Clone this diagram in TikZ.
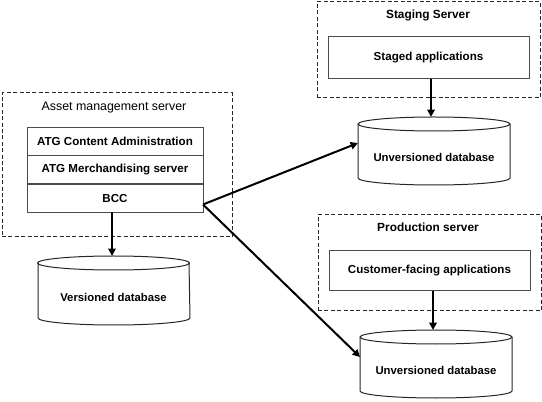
\documentclass[tikz,border=0pt]{standalone}
\usepackage{fontspec}
\setmainfont{Liberation Sans}
\usetikzlibrary{arrows.meta,calc}
\tikzset{
  px/.style={x=0.75pt,y=-0.75pt},
  boxline/.style={draw=black!70,line width=0.75pt},
  servbox/.style={draw=black!85,line width=0.75pt,dash pattern=on 3pt off 1.8pt},
  appbox/.style={boxline,rectangle,inner sep=0pt,outer sep=0pt,font=\fontsize{8.7}{10}\selectfont\bfseries},
  stackrow/.style={appbox,minimum width=132pt,minimum height=21pt},
  titletext/.style={inner sep=0pt,font=\fontsize{8.9}{10}\selectfont\bfseries},
  dbnode/.style={rectangle,inner sep=0pt,outer sep=0pt,minimum width=114pt,minimum height=51pt},
  dbtext/.style={inner sep=0pt,font=\fontsize{8.5}{10}\selectfont\bfseries},
  dbline/.style={draw=black!85,line width=0.75pt},
  flow/.style={draw=black,line width=1.5pt,-{Triangle[length=5.5pt,width=5.5pt]}},
}
\newcommand\dbcyl[1]{%
  \draw[dbline] ([yshift=-5.25pt]#1.north west) -- ([yshift=5.25pt]#1.south west)
     arc[start angle=180,end angle=360,x radius=57pt,y radius=5.25pt]
     -- ([yshift=-5.25pt]#1.north east);
  \draw[dbline] ([yshift=-5.25pt]#1.north) ellipse[x radius=57pt,y radius=5.25pt];
}
\begin{document}
\begin{tikzpicture}[px]
\useasboundingbox (0,0) rectangle (542,402);
% Asset management server
\node[servbox,rectangle,inner sep=0pt,minimum width=172.5pt,minimum height=108pt] (asset) at (117,165) {};
\node[inner sep=0pt,font=\fontsize{9.3}{10}\selectfont] (assett) at (114,108) {Asset management server};
\node[stackrow] (cadmin) at (115,141.5) {ATG Content Administration};
\node[stackrow,minimum height=21pt] (merch) at (115,170) {ATG Merchandising server};
\node[stackrow] (bcc) at (115,198.5) {BCC};
% Versioned database
\node[dbnode,minimum width=113.25pt,minimum height=51.75pt] (vdb) at (113.5,290.5) {};
\dbcyl{vdb}
\node[dbtext] (vdbt) at ([yshift=-4.9pt]vdb.center) {Versioned database};
% Staging server
\node[servbox,rectangle,inner sep=0pt,minimum width=167.25pt,minimum height=72pt] (staging) at (428.5,50) {};
\node[titletext] (stagingt) at (428,15.5) {Staging Server};
\node[appbox,minimum width=150.75pt,minimum height=31.5pt] (staged) at (428.5,58) {Staged applications};
\node[dbnode] (udb1) at (434,151) {};
\dbcyl{udb1}
\node[dbtext] (udb1t) at ([yshift=-4.9pt]udb1.center) {Unversioned database};
% Production server
\node[servbox,rectangle,inner sep=0pt,minimum width=167.25pt,minimum height=72pt] (prod) at (429.5,263) {};
\node[titletext] (prodt) at (428,227.5) {Production server};
\node[appbox,minimum width=150.75pt,minimum height=30pt] (cust) at (429.5,271) {Customer-facing applications};
\node[dbnode] (udb2) at (436,364) {};
\dbcyl{udb2}
\node[dbtext] (udb2t) at ([yshift=-4.9pt]udb2.center) {Unversioned database};
% Connectors
\draw[flow] (bcc.south -| 112,0) -- (vdb.north -| 112,0);
\draw[flow] (staged.south -| 431,0) -- (udb1.north -| 431,0);
\draw[flow] (cust.south -| 433,0) -- (udb2.north -| 433,0);
\draw[flow] ([yshift=-4.5pt]bcc.east) -- ([yshift=6pt]udb1.west);
\draw[flow] ([yshift=-4.5pt]bcc.east) -- ([yshift=5.25pt]udb2.west);
\end{tikzpicture}
\end{document}
